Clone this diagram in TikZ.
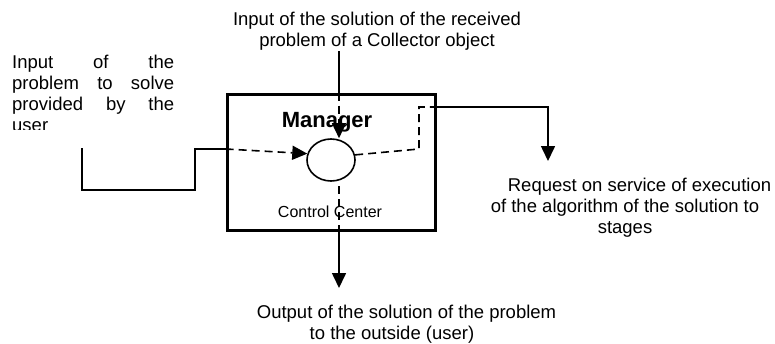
\documentclass[tikz,border=0pt]{standalone}
\usepackage{fontspec}
\setmainfont{Liberation Sans}
\usetikzlibrary{arrows.meta,shapes.geometric}
\begin{document}
\begin{tikzpicture}[x=1pt,y=-1pt,
  txt/.style={font=\fontsize{18.5}{21}\selectfont, inner sep=0pt},
  wire/.style={line width=1.6pt},
  flow/.style={line width=1.6pt, dash pattern=on 8pt off 5pt},
  tip/.style={-{Triangle[length=15pt,width=14pt]}},
  frame/.style={draw, line width=3.6pt, minimum width=208pt, minimum height=136pt, inner sep=0pt},
  core/.style={draw, ellipse, line width=1.6pt, minimum width=48pt, minimum height=42pt, inner sep=0pt}]
\useasboundingbox (0,0) rectangle (775,343);

% Manager block and its control centre
\node[frame] (mgr) at (331.5,162.5) {};
\node[core] (cc) at (331,160) {};
\node[font=\bfseries\fontsize{22}{26}\selectfont, inner sep=0pt, anchor=base] (mlab) at (327,127) {Manager};
\node[font=\fontsize{16}{19}\selectfont, inner sep=0pt, anchor=base] (clab) at (330,217) {Control Center};

% Texts (base anchor = baseline of the last line)
\node[txt, align=center, anchor=base] (tIn) at (377,46) {Input of the solution of the received\\problem of a Collector object};
\begin{scope}
  \clip (0,0) rectangle (200,129);
  \node[txt, text width=162pt, align=justify, anchor=base west] (tUser) at (12,68)
    {Input of the\linebreak problem to solve\linebreak provided by the\linebreak user};
\end{scope}
\node[txt, align=center, anchor=base] (tReq) at (625,233) {\hspace*{29pt}Request on service of execution\\of the algorithm of the solution to\\stages};
\node[txt, align=center, anchor=base] (tOut) at (392,339) {\hspace*{29pt}Output of the solution of the problem\\to the outside (user)};

% Connector points
\coordinate (inA) at (82,148);
\coordinate (inB) at (195,190);
\coordinate (inC) at (195,149);
\coordinate (topA) at (339,51);
\coordinate (rA) at (419,107);
\coordinate (rM) at (419,149);
\coordinate (rB) at (548,107);
\coordinate (rTip) at (548,161);
\coordinate (bA) at (339,186);
\coordinate (bTip) at (339,288);

% Problem input from the user
\draw[wire] (inA) |- (inB) -- (inC) -- (inC -| mgr.west);
\draw[flow, tip] (inC -| mgr.west) -- (cc.165);

% Solution input from a Collector
\draw[wire] (topA) -- (topA |- mgr.north);
\draw[flow, tip] (topA |- mgr.north) -- (topA |- cc.north);

% Request for stage execution
\draw[flow] (cc.12) -- (rM) -- (rA) -- (rA -| mgr.east);
\draw[wire, tip] (rA -| mgr.east) -- (rB) -- (rTip);

% Output of the solution
\draw[flow] (bA) -- (bA |- mgr.south);
\draw[wire, tip] (bA |- mgr.south) -- (bTip);
\end{tikzpicture}
\end{document}
